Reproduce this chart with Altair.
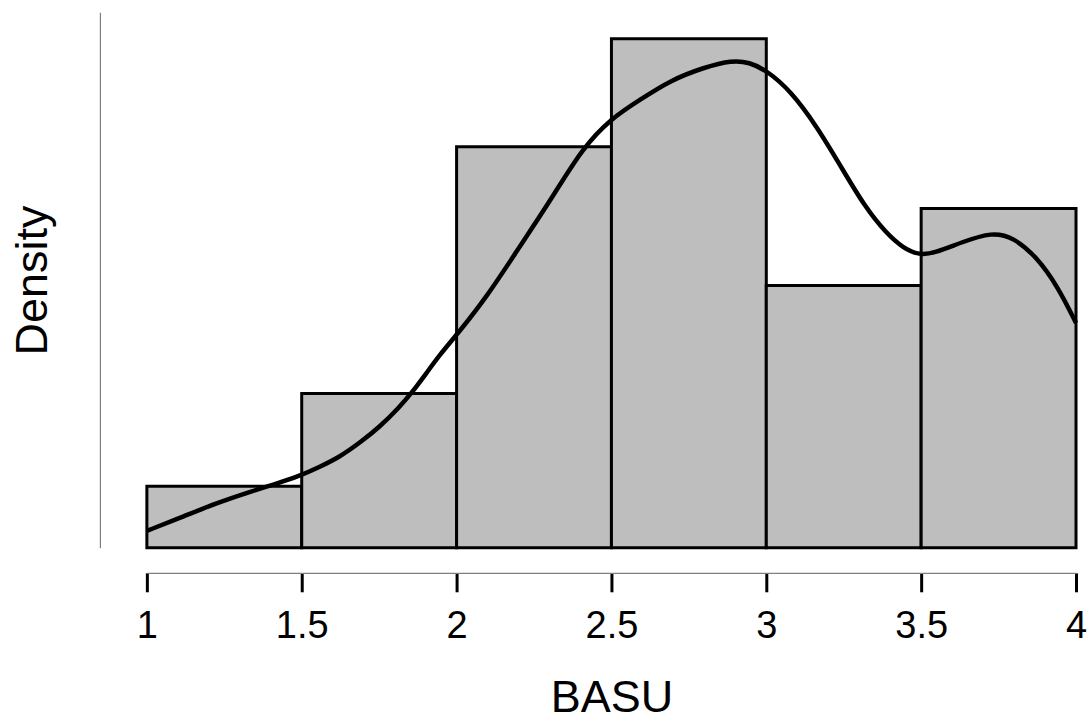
import altair as alt
import pandas as pd

# Histogram bins (BASU) and their densities
bin_start = [1.0, 1.5, 2.0, 2.5, 3.0, 3.5]
bin_end = [1.5, 2.0, 2.5, 3.0, 3.5, 4.0]
density = [0.0714, 0.1786, 0.4643, 0.5893, 0.3036, 0.3929]

# Kernel density curve
curve_x = [1.0, 1.116, 1.226, 1.332, 1.406, 1.494, 1.558, 1.623, 1.687, 1.752,
           1.816, 1.855, 1.903, 1.945, 2.000, 2.097, 2.203, 2.310, 2.406, 2.500,
           2.590, 2.690, 2.800, 2.890, 2.945, 3.000, 3.077, 3.165, 3.242, 3.319,
           3.387, 3.442, 3.494, 3.542, 3.632, 3.729, 3.797, 3.874, 3.942, 4.000]
curve_y = [0.0197, 0.0359, 0.0521, 0.0648, 0.0729, 0.0833, 0.0937, 0.1053, 0.1215, 0.1400,
           0.1631, 0.1793, 0.2024, 0.2233, 0.2464, 0.2903, 0.3482, 0.4060, 0.4627, 0.4974,
           0.5182, 0.5413, 0.5564, 0.5645, 0.5622, 0.5529, 0.5298, 0.4870, 0.4407, 0.3944,
           0.3644, 0.3470, 0.3389, 0.3412, 0.3540, 0.3655, 0.3597, 0.3366, 0.3019, 0.2603]

x_ticks = [1, 1.5, 2, 2.5, 3, 3.5, 4]

bars_df = pd.DataFrame({"start": bin_start, "end": bin_end, "density": density})
curve_df = pd.DataFrame({"x": curve_x, "y": curve_y})

FONT = "Liberation Sans"

x_scale = alt.Scale(domain=[1, 4], range=[47, 977], nice=False, zero=False)
y_scale = alt.Scale(domain=[0, 0.62], nice=False, zero=True)

x_axis = alt.Axis(
    title="BASU", values=x_ticks, format="~g", grid=False, offset=25,
    domainColor="#7f7f7f", domainWidth=1.2,
    tickColor="black", tickWidth=3, tickSize=19,
    labelFont=FONT, labelFontSize=38, labelColor="black", labelPadding=16,
    labelFlush=False, labelOverlap=False,
    titleFont=FONT, titleFontSize=45, titleFontWeight="normal", titleColor="black",
    titlePadding=30,
)
y_axis = alt.Axis(
    title="Density", grid=False, labels=False, ticks=False,
    domainColor="#7f7f7f", domainWidth=1.2,
    titleFont=FONT, titleFontSize=45, titleFontWeight="normal", titleColor="black",
    titleBaseline="alphabetic", titlePadding=53,
)

bars = alt.Chart(bars_df).mark_bar(
    fill="#BEBEBE", stroke="black", strokeWidth=3
).encode(
    x=alt.X("start:Q", scale=x_scale, axis=x_axis),
    x2="end:Q",
    y=alt.Y("density:Q", scale=y_scale, axis=y_axis),
    y2=alt.datum(0),
)

curve = alt.Chart(curve_df).mark_line(
    color="black", strokeWidth=4.5, interpolate="basis"
).encode(
    x=alt.X("x:Q", scale=x_scale),
    y=alt.Y("y:Q", scale=y_scale),
)

chart = alt.layer(bars, curve).properties(
    width=992, height=536,
    padding={"left": 100, "top": 12, "right": 0, "bottom": 174},
    autosize=alt.AutoSizeParams(type="none"),
    background="white",
).configure_view(stroke=None)

chart.save("out.html", embed_options={"renderer": "svg", "actions": False})
